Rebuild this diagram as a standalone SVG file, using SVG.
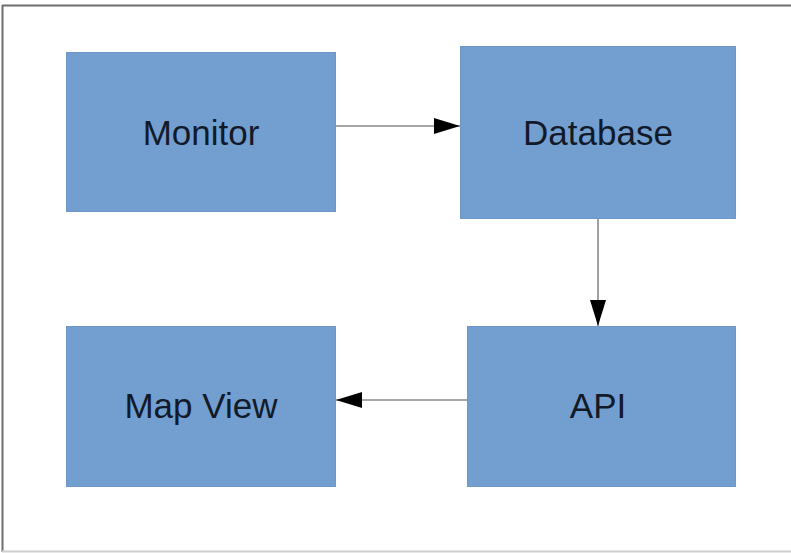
<svg xmlns="http://www.w3.org/2000/svg" width="791" height="553" viewBox="0 0 791 553">
<style>
.box{fill:#729fcf;stroke:#6d97c6;stroke-width:1}
.lbl{font-family:"Liberation Sans",Arial,sans-serif;font-size:35px;fill:#121a2a;text-anchor:middle}
.conn{stroke:#8a8a8a;stroke-width:1.6;fill:none}
</style>
<defs>
<marker id="ah" viewBox="0 0 10 10" refX="10" refY="5" markerWidth="9" markerHeight="9" markerUnits="userSpaceOnUse" orient="auto" overflow="visible">
<path d="M0,0 L10,5 L0,10 Z" fill="#000"/>
</marker>
<marker id="ah2" viewBox="0 0 26 16" refX="26" refY="8" markerWidth="26" markerHeight="16" markerUnits="userSpaceOnUse" orient="auto">
<path d="M0,0 L26,8 L0,16 Z" fill="#000"/>
</marker>
</defs>
<rect width="791" height="553" fill="#fff"/>
<g id="frame">
<line x1="2" y1="5.5" x2="791" y2="5.5" stroke="#6e6e6e" stroke-width="2"/>
<line x1="2.5" y1="5" x2="2.5" y2="552" stroke="#6e6e6e" stroke-width="2"/>
<line x1="2" y1="551.5" x2="791" y2="551.5" stroke="#d0d0d0" stroke-width="2"/>
</g>
<g id="connectors">
<line class="conn" x1="336" y1="126" x2="460" y2="126" marker-end="url(#ah2)"/>
<line class="conn" x1="598" y1="213" x2="598" y2="326" marker-end="url(#ah2)"/>
<line class="conn" x1="467" y1="400" x2="336" y2="400" marker-end="url(#ah2)"/>
</g>
<g id="monitor">
<rect class="box" x="66.5" y="52.5" width="269" height="159"/>
<text class="lbl" x="201" y="145">Monitor</text>
</g>
<g id="database">
<rect class="box" x="460.5" y="46.5" width="275" height="172"/>
<text class="lbl" x="598" y="145">Database</text>
</g>
<g id="mapview">
<rect class="box" x="66.5" y="326.5" width="269" height="160"/>
<text class="lbl" x="201" y="418">Map View</text>
</g>
<g id="api">
<rect class="box" x="467.5" y="326.5" width="268" height="160"/>
<text class="lbl" x="598" y="418">API</text>
</g>
</svg>
